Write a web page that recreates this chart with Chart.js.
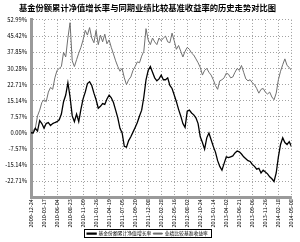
<!DOCTYPE html>
<html><head><meta charset="utf-8">
<script src="https://cdn.jsdelivr.net/npm/chart.js@4/dist/chart.umd.min.js"></script>
<style>html,body{margin:0;padding:0;background:#fff}canvas{display:block}</style>
</head><body>
<canvas id="c" width="300" height="242"></canvas>
<script>
const title = '基金份额累计净值增长率与同期业绩比较基准收益率的历史走势对比图';
const seriesNames = ['基金份额累计净值增长率', '业绩比较基准收益率'];
const dateLabels = ['2009-12-24','2010-03-17','2010-06-04','2010-08-23','2010-11-09','2011-01-26','2011-04-19','2011-07-05','2011-09-20','2011-12-08','2012-02-28','2012-05-16','2012-08-02','2012-10-24','2013-01-14','2013-04-02','2013-06-21','2013-09-06','2013-11-26','2014-02-18','2014-05-08'];
const yTickValues = [52.99,45.42,37.85,30.28,22.71,15.14,7.57,0,-7.57,-15.14,-22.71,-30.28];
const yTickLabels = ['52.99%','45.42%','37.85%','30.28%','22.71%','15.14%','7.57%','0.00%','-7.57%','-15.14%','-22.71%',''];
const fundValues = [0.0,-0.1,2.1,0.8,5.7,4.3,2.1,4.3,4.8,3.4,4.3,4.8,5.2,6.1,8.8,14.6,17.7,23.5,16.8,7.9,5.2,8.8,5.2,11.0,15.9,19.1,23.1,24.0,22.2,18.6,15.5,11.5,12.4,13.7,13.3,15.9,17.7,16.4,14.2,10.6,7.0,2.1,-0.1,-6.4,-6.8,-3.7,-1.9,0.3,2.5,4.8,7.9,10.6,16.8,24.9,29.3,31.1,28.4,25.8,24.4,25.3,27.1,24.9,24.9,25.8,22.2,20.8,17.7,14.6,11.0,7.9,4.3,2.5,10.1,10.6,9.3,8.4,7.0,4.3,-1.9,-4.6,-7.7,-2.4,-0.1,-3.3,-6.4,-9.1,-13.1,-15.8,-17.6,-14.4,-11.3,-11.7,-11.3,-10.9,-9.5,-8.6,-9.0,-10.0,-11.3,-12.2,-13.1,-13.5,-14.9,-15.8,-17.1,-16.7,-18.9,-17.6,-18.4,-19.3,-20.7,-21.6,-22.9,-18.9,-11.3,-5.5,-2.4,-4.6,-5.5,-4.2,-6.4];
const benchValues = [0.0,1.2,2.1,7.9,10.6,14.2,15.5,14.6,19.1,21.3,20.4,25.8,29.3,30.2,31.1,37.8,35.6,44.5,51.7,33.8,31.1,34.3,37.4,40.1,43.6,48.1,45.9,49.4,44.5,42.3,48.1,41.4,45.9,42.7,46.3,41.8,43.6,40.1,37.0,33.8,31.1,28.9,30.2,25.8,22.6,24.9,26.2,29.3,31.1,33.3,32.9,36.0,38.3,48.9,43.6,41.4,44.5,42.7,41.4,44.5,43.2,44.5,45.4,42.7,42.3,46.8,43.2,39.2,41.0,38.3,35.6,38.3,40.1,39.2,37.4,36.5,34.7,32.9,30.7,27.1,29.3,30.2,28.4,27.1,24.9,22.2,20.4,24.4,24.9,25.8,28.0,27.5,25.8,26.2,28.4,30.2,29.3,31.6,28.4,25.3,24.4,24.9,23.5,22.6,20.8,18.6,20.4,20.8,19.1,18.2,19.1,16.8,15.5,18.6,24.9,28.9,32.0,34.7,31.6,30.7,29.3];

const pointsPerLabel = (fundValues.length - 1) / (dateLabels.length - 1);
const toXY = arr => arr.map((v, i) => ({x: i, y: v}));
const FONT = '"Noto Sans CJK SC", "DejaVu Sans", sans-serif';

const legendBox = {
  id: 'legendBox',
  afterDraw(chart) {
    const l = chart.legend;
    if (!l || !l.legendHitBoxes || !l.legendHitBoxes.length) return;
    const hb = l.legendHitBoxes;
    let x0 = Infinity, x1 = -Infinity, y0 = Infinity, y1 = -Infinity;
    hb.forEach(b => { x0 = Math.min(x0, b.left); x1 = Math.max(x1, b.left + b.width); y0 = Math.min(y0, b.top); y1 = Math.max(y1, b.top + b.height); });
    const ctx = chart.ctx;
    ctx.save();
    ctx.strokeStyle = '#000';
    ctx.lineWidth = 1;
    ctx.strokeRect(Math.round(x0 - 3) + 0.5, Math.round(y0 - 2) + 0.5, Math.round(x1 - x0 + 6), Math.round(y1 - y0 + 3));
    ctx.restore();
  }
};

new Chart(document.getElementById('c'), {
  type: 'line',
  data: {
    datasets: [
      {label: seriesNames[0], data: toXY(fundValues), borderColor: '#000', backgroundColor: '#000', borderWidth: 1.3, pointRadius: 0, tension: 0},
      {label: seriesNames[1], data: toXY(benchValues), borderColor: '#707070', backgroundColor: '#707070', borderWidth: 1, pointRadius: 0, tension: 0}
    ]
  },
  options: {
    responsive: false,
    animation: false,
    devicePixelRatio: 1,
    layout: {padding: {left: 2, right: 7, top: 3, bottom: -4}},
    plugins: {
      title: {display: true, text: title, color: '#000', font: {family: FONT, size: 8.3, weight: 'bold'}, padding: {top: 0, bottom: 7}},
      legend: {
        position: 'bottom',
        labels: {color: '#000', font: {family: FONT, size: 4.8}, boxWidth: 9, boxHeight: 1, padding: 2}
      },
      tooltip: {enabled: false}
    },
    scales: {
      x: {
        type: 'linear', min: 0, max: fundValues.length - 1,
        afterBuildTicks: s => { s.ticks = dateLabels.map((d, i) => ({value: i * pointsPerLabel})); },
        afterFit: s => { s.height = 32; },
        ticks: {
          autoSkip: false, maxRotation: 90, minRotation: 90, color: '#000', padding: 2,
          font: {family: FONT, size: 5.5},
          callback: v => dateLabels[Math.round(v / pointsPerLabel)]
        },
        grid: {color: '#8a8a8a', lineWidth: 0.8, drawTicks: false, tickLength: 0},
        border: {color: '#9a9a9a', width: 3, dash: [1, 2]}
      },
      y: {
        min: -30.28, max: 52.99,
        afterBuildTicks: s => { s.ticks = yTickValues.map(v => ({value: v})); },
        afterFit: s => { s.width = 29; },
        ticks: {
          autoSkip: false, color: '#000', padding: 4,
          font: {family: FONT, size: 5.8},
          callback: (v, i) => yTickLabels[i]
        },
        grid: {color: '#8a8a8a', lineWidth: 0.8, drawTicks: false},
        border: {color: '#9a9a9a', width: 3, dash: [1, 2]}
      }
    }
  },
  plugins: [legendBox]
});
</script>
</body></html>
